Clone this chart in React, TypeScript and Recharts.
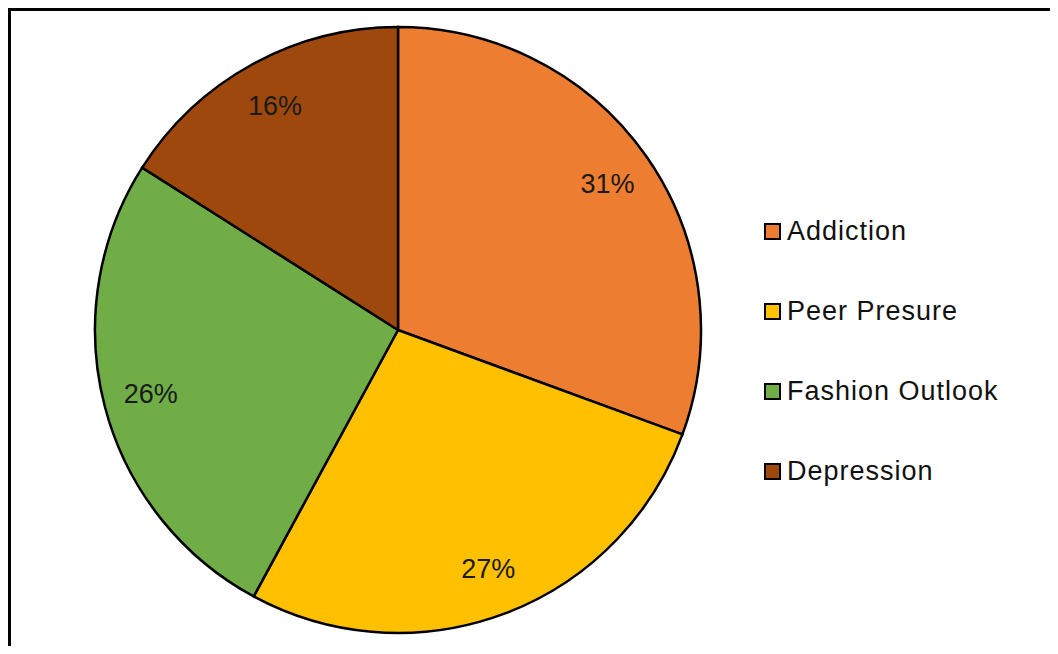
import React from 'react';
import { PieChart, Pie, Cell, Legend } from 'recharts';

const categories = ['Addiction', 'Peer Presure', 'Fashion Outlook', 'Depression'];
const shares = [30.6, 27.3, 26.1, 16.0];
const colors = ['#ED7D31', '#FFC000', '#70AD47', '#9E480E'];

const data = categories.map((name, i) => ({ name, value: shares[i] }));

const RAD = Math.PI / 180;

const renderLabel = (props: any) => {
  const { cx, cy, midAngle, outerRadius, percent } = props;
  const r = outerRadius * 0.843;
  const x = cx + r * Math.cos(-midAngle * RAD);
  const y = cy + r * Math.sin(-midAngle * RAD);
  return (
    <text
      x={x}
      y={y}
      textAnchor="middle"
      dominantBaseline="central"
      fill="#1a1a1a"
      fontSize={27}
      fontFamily="'Liberation Sans', Arial, sans-serif"
    >
      {`${Math.round(percent * 100)}%`}
    </text>
  );
};

const renderLegend = () => (
  <div style={{ fontFamily: "'Liberation Sans', Arial, sans-serif" }}>
    {categories.map((name, i) => (
      <div key={name} style={{ height: 80, display: 'flex', alignItems: 'center' }}>
        <span
          style={{
            display: 'inline-block',
            width: 17,
            height: 17,
            boxSizing: 'border-box',
            border: '2.5px solid #000',
            background: colors[i],
            marginRight: 6,
          }}
        />
        <span style={{ fontSize: 27, letterSpacing: 1, color: '#111', lineHeight: '30px' }}>{name}</span>
      </div>
    ))}
  </div>
);

export default function App() {
  return (
    <div style={{ width: 1042, height: 638, overflow: 'hidden', position: 'relative' }}>
      <div
        style={{
          position: 'absolute',
          left: 0,
          top: 0,
          width: 1100,
          height: 700,
          boxSizing: 'border-box',
          border: '3px solid #000',
        }}
      />
      <div style={{ position: 'absolute', left: 0, top: 0 }}>
        <PieChart width={1042} height={638} margin={{ top: 0, right: 0, bottom: 0, left: 0 }}>
          <Pie
            data={data}
            dataKey="value"
            nameKey="name"
            cx={390}
            cy={322}
            outerRadius={303}
            startAngle={90}
            endAngle={-270}
            stroke="#000"
            strokeWidth={2.5}
            label={renderLabel}
            labelLine={false}
            isAnimationActive={false}
          >
            {data.map((d, i) => (
              <Cell key={d.name} fill={colors[i]} />
            ))}
          </Pie>
          <Legend
            content={renderLegend}
            wrapperStyle={{ position: 'absolute', left: 756, top: 183, width: 280 }}
          />
        </PieChart>
      </div>
    </div>
  );
}
